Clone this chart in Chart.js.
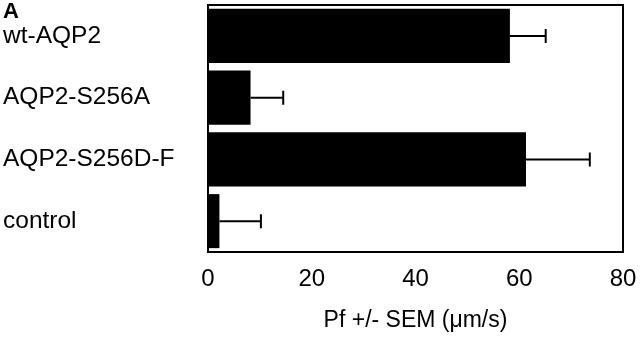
<!DOCTYPE html>
<html>
<head>
<meta charset="utf-8">
<script src="https://cdn.jsdelivr.net/npm/chart.js@4/dist/chart.umd.min.js"></script>
<style>
  html, body { margin: 0; padding: 0; background: #fff; }
  #wrap { position: relative; width: 640px; height: 340px; }
  #panel {
    position: absolute; left: 3px; top: 0px;
    font-family: 'Liberation Sans', Arial, sans-serif;
    font-weight: bold; font-size: 22px; line-height: 22px; color: #000;
  }
</style>
</head>
<body>
<div id="wrap">
  <canvas id="pfChart" width="640" height="340"></canvas>
  <div id="panel">A</div>
</div>
<script>
const labels = ['wt-AQP2', 'AQP2-S256A', 'AQP2-S256D-F', 'control'];
const pf = [58.2, 8.2, 61.3, 2.2];
const sem = [6.9, 6.3, 12.3, 8.0];
const xTicks = [0, 20, 40, 60, 80];

const font = "'Liberation Sans', Arial, sans-serif";

// frame around the plot + one-sided error bars
const framePlugin = {
  id: 'frame',
  afterDatasetsDraw(chart) {
    const { ctx, chartArea: a, scales } = chart;
    const x = scales.x, y = scales.y;
    ctx.save();
    ctx.strokeStyle = '#000';
    ctx.lineWidth = 2;
    pf.forEach((v, i) => {
      const yc = y.getPixelForValue(i);
      const x0 = x.getPixelForValue(v);
      const x1 = x.getPixelForValue(v + sem[i]);
      ctx.beginPath();
      ctx.moveTo(x0, yc);
      ctx.lineTo(x1, yc);
      ctx.moveTo(x1, yc - 7);
      ctx.lineTo(x1, yc + 7);
      ctx.stroke();
    });
    ctx.strokeRect(a.left, a.top, a.right - a.left, a.bottom - a.top);
    ctx.restore();
  }
};

new Chart(document.getElementById('pfChart'), {
  type: 'bar',
  data: {
    labels: labels,
    datasets: [{
      data: pf,
      backgroundColor: '#000',
      borderWidth: 0,
      categoryPercentage: 1,
      barPercentage: 0.875
    }]
  },
  options: {
    indexAxis: 'y',
    responsive: false,
    animation: false,
    layout: { padding: { left: 3, right: 17, top: 5, bottom: 0 } },
    plugins: { legend: { display: false }, tooltip: { enabled: false } },
    scales: {
      x: {
        min: 0,
        max: 80,
        afterBuildTicks: s => { s.ticks = xTicks.map(v => ({ value: v })); },
        afterFit: s => { s.height = 88; s.paddingLeft = 0; s.paddingRight = 0; },
        grid: { display: false, drawOnChartArea: false, drawTicks: true, tickLength: 6, tickWidth: 2, tickColor: '#000' },
        border: { display: true, color: '#000', width: 2 },
        ticks: { color: '#000', font: { family: font, size: 24 }, padding: 7, maxRotation: 0 },
        title: { display: true, text: 'Pf +/- SEM (\u03bcm/s)', color: '#000', font: { family: font, size: 23 }, padding: { top: 0, bottom: 6 } }
      },
      y: {
        afterFit: s => { s.width = 205; s.paddingTop = 0; s.paddingBottom = 0; },
        grid: { display: false, drawTicks: false },
        border: { display: true, color: '#000', width: 2 },
        ticks: { color: '#000', font: { family: font, size: 24.5 }, crossAlign: 'far', padding: 0 }
      }
    }
  },
  plugins: [framePlugin]
});
</script>
</body>
</html>
